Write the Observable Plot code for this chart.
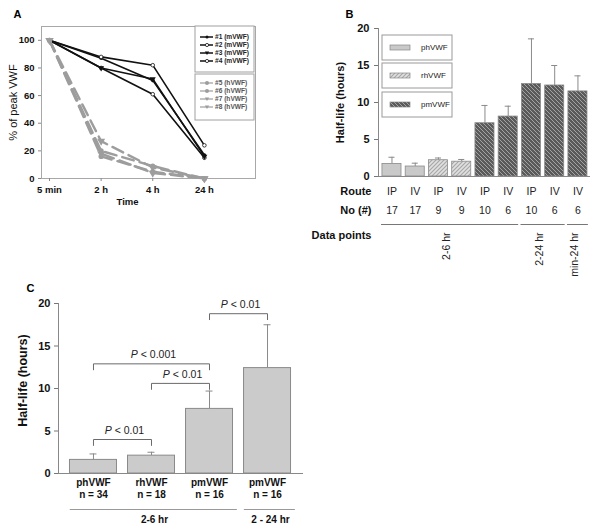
<!DOCTYPE html>
<html><head><meta charset="utf-8">
<script src="https://cdn.jsdelivr.net/npm/d3@7"></script>
<script src="https://cdn.jsdelivr.net/npm/@observablehq/plot@0.6"></script>
<style>
body{margin:0;background:#fff;}
#fig{position:relative;width:600px;height:532px;background:#fff;overflow:hidden;}
</style></head><body>
<svg width="0" height="0" style="position:absolute;left:0;top:0">
<defs>
<pattern id="hatchRh" patternUnits="userSpaceOnUse" width="4" height="4">
 <rect width="4" height="4" fill="#e0e0e0"/>
 <path d="M-1,1 l2,-2 M0,4 l4,-4 M3,5 l2,-2" stroke="#a6a6a6" stroke-width="1.1"/>
</pattern>
<pattern id="hatchPm" patternUnits="userSpaceOnUse" width="4" height="4">
 <rect width="4" height="4" fill="#5a5a5a"/>
 <path d="M-1,3 l2,2 M0,0 l4,4 M3,-1 l2,2" stroke="#a3a3a3" stroke-width="1"/>
</pattern>
</defs></svg>
<div id="fig"></div>
<script>
const FONT = "Arial, 'Liberation Sans', sans-serif";

// ---------- Panel A data ----------
const timeLabels = ["5 min", "2 h", "4 h", "24 h"];
const mSeries = ["#1 (mVWF)", "#2 (mVWF)", "#3 (mVWF)", "#4 (mVWF)"];
const mValues = [[100, 87, 71, 17], [100, 88, 82, 24], [100, 80, 72, 16], [100, 80, 61, 15]];
const mMarkers = ["dot", "open", "tri", "open"];
const hSeries = ["#5 (hVWF)", "#6 (hVWF)", "#7 (hVWF)", "#8 (hVWF)"];
const hValues = [[100, 20, 9, 0], [100, 16, 5, 0], [100, 27, 8, 0], [100, 18, 4, 0]];
const hMarkers = ["circle", "circle", "tri", "tri"];
const aYTicks = [0, 20, 40, 60, 80, 100];

// ---------- Panel B data ----------
const bCategories = ["phVWF", "phVWF", "rhVWF", "rhVWF", "pmVWF", "pmVWF", "pmVWF", "pmVWF", "pmVWF"];
const bRoute = ["IP", "IV", "IP", "IV", "IP", "IV", "IP", "IV", "IV"];
const bN = [17, 17, 9, 9, 10, 6, 10, 6, 6];
const bMean = [1.7, 1.35, 2.2, 2.0, 7.2, 8.1, 12.5, 12.3, 11.5];
const bErr = [2.6, 1.8, 2.5, 2.3, 9.6, 9.5, 18.6, 15.0, 13.6];
const bGroupLabels = ["2-6 hr", "2-24 hr", "min-24 hr"];
const bGroupStart = [0, 6, 8];
const bGroupEnd = [5, 7, 8];
const bLegend = ["phVWF", "rhVWF", "pmVWF"];
const bYTicks = [0, 5, 10, 15, 20];

// ---------- Panel C data ----------
const cCategories = ["phVWF", "rhVWF", "pmVWF", "pmVWF"];
const cN = [34, 18, 16, 16];
const cMean = [1.6, 2.1, 7.6, 12.4];
const cErr = [2.3, 2.5, 9.7, 17.5];
const cBracketFrom = [0, 0, 1, 2];
const cBracketTo = [1, 2, 2, 3];
const cBracketY = [4.0, 12.9, 10.6, 18.8];
const cBracketLabel = ["P < 0.01", "P < 0.001", "P < 0.01", "P < 0.01"];
const cGroupLabels = ["2-6 hr", "2 - 24 hr"];
const cGroupStart = [0, 3];
const cGroupEnd = [2, 3];
const cYTicks = [0, 5, 10, 15, 20];

const fig = document.getElementById("fig");
function place(svg, left, top) {
  svg.style.position = "absolute";
  svg.style.left = left + "px";
  svg.style.top = top + "px";
  svg.style.maxWidth = "none";
  svg.style.background = "transparent";
  fig.append(svg);
  return svg;
}

// ================= Panel A =================
const aRows = [];
mSeries.forEach((s, k) => mValues[k].forEach((v, i) => aRows.push({series: s, group: "m", t: i, v, marker: mMarkers[k]})));
hSeries.forEach((s, k) => hValues[k].forEach((v, i) => aRows.push({series: s, group: "h", t: i, v, marker: hMarkers[k]})));
const mRows = aRows.filter(d => d.group === "m");
const hRows = aRows.filter(d => d.group === "h");

const plotA = Plot.plot({
  width: 300, height: 215,
  marginLeft: 41, marginTop: 26, marginRight: 45, marginBottom: 37,
  style: {fontFamily: FONT, background: "transparent", overflow: "visible"},
  x: {domain: [-0.155, 3.99]},
  y: {domain: [0, 110]},
  marks: [
    Plot.frame({stroke: "#a8a8a8"}),
    Plot.axisY({ticks: aYTicks, tickSize: 3, tickPadding: 4, fontSize: 9.5, fontWeight: "bold", stroke: "#888", fill: "#111", label: null}),
    Plot.axisX({ticks: [0, 1, 2, 3], tickFormat: i => timeLabels[i], tickSize: 3, tickPadding: 5, fontSize: 9.5, fontWeight: "bold", stroke: "#888", fill: "#111", label: null}),
    Plot.line(mRows, {x: "t", y: "v", z: "series", stroke: "#111", strokeWidth: 1.6}),
    Plot.dot(mRows.filter(d => d.marker === "dot"), {x: "t", y: "v", r: 1.8, fill: "#111"}),
    Plot.dot(mRows.filter(d => d.marker === "open"), {x: "t", y: "v", r: 1.8, fill: "#fff", stroke: "#111", strokeWidth: 0.8}),
    Plot.dot(mRows.filter(d => d.marker === "tri"), {x: "t", y: "v", r: 2.2, symbol: "triangle", rotate: 180, fill: "#111"}),
    Plot.line(hRows, {x: "t", y: "v", z: "series", stroke: "#9d9d9d", strokeWidth: 2.4, strokeDasharray: "12,6"}),
    Plot.dot(hRows.filter(d => d.marker === "circle"), {x: "t", y: "v", r: 2.6, fill: "#9d9d9d"}),
    Plot.dot(hRows.filter(d => d.marker === "tri"), {x: "t", y: "v", r: 3, symbol: "triangle", rotate: 180, fill: "#9d9d9d"}),
    Plot.text(["% of peak VWF"], {text: d => d, frameAnchor: "left", dx: -28, rotate: -90, textAnchor: "middle", fontSize: 11, fill: "#111"}),
    Plot.text(["Time"], {text: d => d, frameAnchor: "bottom", dx: -21, dy: 26, fontSize: 9.5, fontWeight: "bold", fill: "#111"}),
    Plot.text(["A"], {text: d => d, frameAnchor: "top-left", dx: -28, dy: -16, textAnchor: "start", fontSize: 11, fontWeight: "bold"})
  ]
});
place(plotA, 0, 0);

// Legend A (boxes inside plot area)
{
  const g = d3.select(plotA).append("g").attr("font-family", FONT).attr("text-anchor", "start");
  const boxes = [
    {y0: 26, y1: 72, names: mSeries, markers: mMarkers, color: "#111", text: "#222", y: 37},
    {y0: 74, y1: 120, names: hSeries, markers: hMarkers, color: "#9d9d9d", text: "#555", y: 83}
  ];
  for (const b of boxes) {
    g.append("rect").attr("x", 195).attr("y", b.y0).attr("width", 59).attr("height", b.y1 - b.y0)
      .attr("fill", "#fff").attr("stroke", "#a0a0a0").attr("stroke-width", 1);
    b.names.forEach((name, k) => {
      const y = b.y + k * 8;
      g.append("line").attr("x1", 200).attr("x2", 213).attr("y1", y).attr("y2", y)
        .attr("stroke", b.color).attr("stroke-width", b.color === "#111" ? 1.5 : 1.2);
      const m = b.markers[k];
      if (m === "tri") {
        g.append("path").attr("d", `M${207 - 2.2},${y - 1.5}L${207 + 2.2},${y - 1.5}L207,${y + 2}Z`).attr("fill", b.color);
      } else if (m === "open") {
        g.append("circle").attr("cx", 207).attr("cy", y).attr("r", 1.6).attr("fill", "#fff").attr("stroke", b.color).attr("stroke-width", 0.8);
      } else {
        g.append("circle").attr("cx", 207).attr("cy", y).attr("r", m === "circle" ? 2 : 1.5).attr("fill", b.color);
      }
      g.append("text").attr("x", 215).attr("y", y).attr("dy", "0.35em").attr("font-size", 6.6)
        .attr("text-anchor", "start").attr("font-weight", "bold").attr("fill", b.text).text(name);
    });
  }
}

// ================= Panel B =================
const bRows = bMean.map((m, i) => ({i, cat: bCategories[i], route: bRoute[i], n: bN[i], mean: m, err: bErr[i]}));
const bGroups = bGroupLabels.map((label, k) => ({label, a: bGroupStart[k], b: bGroupEnd[k]}));
const B_X0 = -0.58;
const plotB = Plot.plot({
  width: 300, height: 280,
  marginLeft: 78, marginTop: 28, marginRight: 10, marginBottom: 104,
  style: {fontFamily: FONT, background: "transparent", overflow: "visible"},
  x: {domain: [B_X0, 8.54], axis: null},
  y: {domain: [0, 20]},
  color: {type: "ordinal", domain: bLegend, range: ["#c9c9c9", "url(#hatchRh)", "url(#hatchPm)"]},
  marks: [
    Plot.axisY({ticks: bYTicks, tickSize: 4, tickPadding: 5, fontSize: 11, fontWeight: "bold", stroke: "#777", fill: "#111", label: null}),
    Plot.ruleX([B_X0], {stroke: "#888"}),
    Plot.ruleX(bRows, {x: "i", y1: "mean", y2: "err", stroke: "#8a8a8a"}),
    Plot.ruleY(bRows, {y: "err", x1: d => d.i - 0.13, x2: d => d.i + 0.13, stroke: "#8a8a8a"}),
    Plot.rect(bRows, {x1: d => d.i - 0.41, x2: d => d.i + 0.41, y1: () => 0, y2: "mean", fill: "cat", stroke: "#8a8a8a", strokeWidth: 0.8}),
    Plot.ruleY([0], {stroke: "#888"}),
    Plot.text(["Half-life (hours)"], {text: d => d, frameAnchor: "left", dx: -38, rotate: -90, textAnchor: "middle", fontSize: 11, fontWeight: "bold", fill: "#111"}),
    Plot.text(["B"], {text: d => d, frameAnchor: "top-left", dx: -33, dy: -18, textAnchor: "start", fontSize: 11, fontWeight: "bold"}),
    Plot.text(["Route"], {text: d => d, frameAnchor: "bottom-left", dx: -7, dy: 18, textAnchor: "end", fontSize: 11, fontWeight: "bold", fill: "#111"}),
    Plot.text(["No (#)"], {text: d => d, frameAnchor: "bottom-left", dx: -7, dy: 37, textAnchor: "end", fontSize: 11, fontWeight: "bold", fill: "#111"}),
    Plot.text(["Data points"], {text: d => d, frameAnchor: "bottom-left", dx: -7, dy: 62, textAnchor: "end", fontSize: 11, fontWeight: "bold", fill: "#111"}),
    Plot.text(bRows, {x: "i", text: "route", frameAnchor: "bottom", dy: 18, fontSize: 10.5, fill: "#222"}),
    Plot.text(bRows, {x: "i", text: d => String(d.n), frameAnchor: "bottom", dy: 37, fontSize: 10.5, fill: "#222"}),
    Plot.ruleY(bGroups, {y: () => 0, x1: d => d.a - 0.45, x2: d => d.b + 0.45, dy: 48, stroke: "#777"}),
    Plot.text(bGroups, {x: d => (d.a + d.b) / 2, text: "label", frameAnchor: "bottom", dy: 56, rotate: -90, textAnchor: "end", fontSize: 10.5, fill: "#222"})
  ]
});
place(plotB, 300, 0);

// Legend B
{
  const g = d3.select(plotB).append("g").attr("font-family", FONT).attr("text-anchor", "start");
  const fills = ["#c9c9c9", "url(#hatchRh)", "url(#hatchPm)"];
  const tops = [35, 63, 92];
  bLegend.forEach((name, k) => {
    const y0 = tops[k];
    g.append("rect").attr("x", 82).attr("y", y0).attr("width", 70).attr("height", 25)
      .attr("fill", "#fff").attr("stroke", "#9a9a9a");
    g.append("rect").attr("x", 90).attr("y", y0 + 10).attr("width", 20).attr("height", 5)
      .attr("fill", fills[k]).attr("stroke", "#888").attr("stroke-width", 0.7);
    g.append("text").attr("x", 121).attr("y", y0 + 12.5).attr("dy", "0.35em")
      .attr("text-anchor", "start").attr("font-size", 8).attr("fill", "#222").text(name);
  });
}

// ================= Panel C =================
const cRows = cMean.map((m, i) => ({i, cat: cCategories[i], n: cN[i], mean: m, err: cErr[i]}));
const cBrackets = cBracketLabel.map((label, k) => ({id: k, label, a: cBracketFrom[k], b: cBracketTo[k], y: cBracketY[k]}));
const cBracketPts = cBrackets.flatMap(d => [
  {id: d.id, x: d.a, y: d.y - 0.7}, {id: d.id, x: d.a, y: d.y},
  {id: d.id, x: d.b, y: d.y}, {id: d.id, x: d.b, y: d.y - 0.7}
]);
const cGroups = cGroupLabels.map((label, k) => ({label, a: cGroupStart[k], b: cGroupEnd[k]}));
const C_X0 = -0.603;
const plotC = Plot.plot({
  width: 310, height: 262,
  marginLeft: 58, marginTop: 33, marginRight: 7, marginBottom: 59,
  style: {fontFamily: FONT, background: "transparent", overflow: "visible"},
  x: {domain: [C_X0, 3.62], axis: null},
  y: {domain: [0, 20]},
  marks: [
    Plot.axisY({ticks: cYTicks, tickSize: 4, tickPadding: 4, fontSize: 11, fontWeight: "bold", stroke: "#777", fill: "#111", label: null}),
    Plot.ruleX([C_X0], {stroke: "#888"}),
    Plot.ruleX(cRows, {x: "i", y1: "mean", y2: "err", stroke: "#8a8a8a"}),
    Plot.ruleY(cRows, {y: "err", x1: d => d.i - 0.06, x2: d => d.i + 0.06, stroke: "#8a8a8a"}),
    Plot.rect(cRows, {x1: d => d.i - 0.405, x2: d => d.i + 0.405, y1: () => 0, y2: "mean", fill: "#cbcbcb", stroke: "#8a8a8a", strokeWidth: 1}),
    Plot.ruleY([0], {stroke: "#888"}),
    Plot.line(cBracketPts, {x: "x", y: "y", z: "id", stroke: "#6a6a6a", strokeWidth: 1}),
    Plot.text(cBrackets, {x: d => (d.a + d.b) / 2, y: "y", dx: 2, dy: -9, text: "label", fontSize: 10.5, fill: "#222"}),
    Plot.text(["Half-life (hours)"], {text: d => d, frameAnchor: "left", dx: -36, dy: -8, rotate: -90, textAnchor: "middle", fontSize: 12.5, fontWeight: "bold", fill: "#111"}),
    Plot.text(["C"], {text: d => d, frameAnchor: "top-left", dx: -32, dy: -19, textAnchor: "start", fontSize: 11, fontWeight: "bold"}),
    Plot.text(cRows, {x: "i", text: "cat", frameAnchor: "bottom", dy: 12, fontSize: 10, fontWeight: "bold", fill: "#111"}),
    Plot.text(cRows, {x: "i", text: d => "n = " + d.n, frameAnchor: "bottom", dy: 24, fontSize: 10, fontWeight: "bold", fill: "#111"}),
    Plot.ruleY(cGroups, {y: () => 0, x1: d => d.a - 0.4, x2: d => d.b + 0.48, dy: 36, stroke: "#999"}),
    Plot.text(cGroups, {x: d => (d.a + d.b) / 2, text: "label", frameAnchor: "bottom", dx: 3, dy: 49, fontSize: 10, fontWeight: "bold", fill: "#111"})
  ]
});
place(plotC, 0, 270);

// italic P in significance labels
d3.select(plotC).selectAll("text").each(function () {
  const t = this.textContent;
  if (this.childElementCount === 0 && /^P </.test(t)) {
    this.textContent = "";
    d3.select(this).append("tspan").attr("font-style", "italic").text("P");
    d3.select(this).append("tspan").text(t.slice(1));
  }
});
</script>
</body></html>
